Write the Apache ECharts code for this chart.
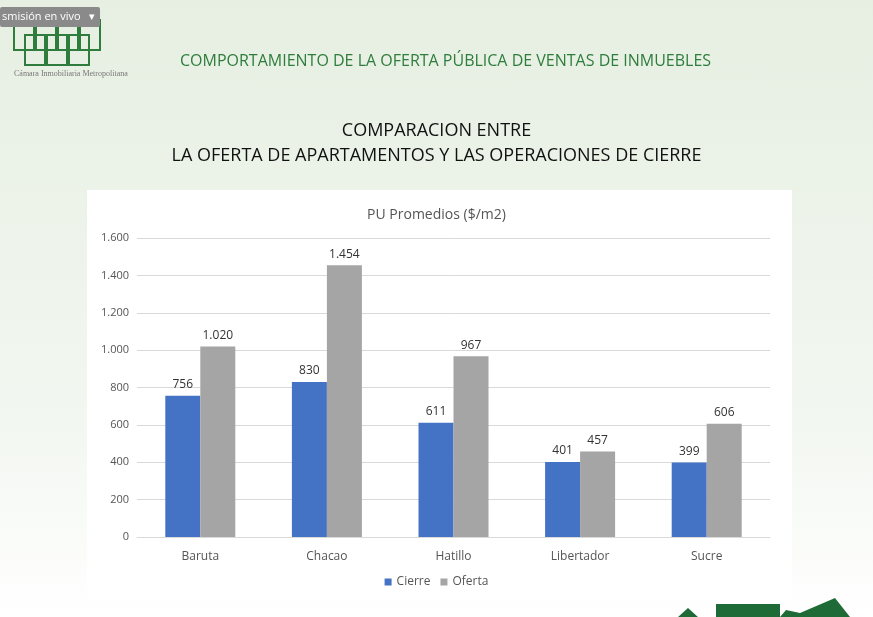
<!DOCTYPE html>
<html>
<head>
<meta charset="utf-8">
<script src="https://cdn.jsdelivr.net/npm/echarts@6/dist/echarts.min.js"></script>
<style>
  html, body { margin: 0; padding: 0; }
  body { background: linear-gradient(#e6efe2, #f3f7f1 70%, #ffffff); }
  #main { width: 873px; height: 617px; }
</style>
</head>
<body>
<div id="main"></div>
<script>
var categories = ['Baruta', 'Chacao', 'Hatillo', 'Libertador', 'Sucre'];
var cierre = [756, 830, 611, 401, 399];
var oferta = [1020, 1454, 967, 457, 606];

var chart = echarts.init(document.getElementById('main'));

function fmt(p) {
    return p.value >= 1000 ? Math.floor(p.value / 1000) + '.' + String(p.value % 1000).padStart(3, '0') : p.value;
}

// simple logo outline boxes
var logo = [];
[[14, 20], [36, 20], [58, 20], [80, 20], [25, 35], [47, 35], [69, 35]].forEach(function (p) {
    logo.push({ type: 'rect', shape: { x: p[0], y: p[1], width: 20, height: 30 }, style: { fill: 'none', stroke: '#2e7d3c', lineWidth: 2 } });
});

var option = {
    textStyle: { fontFamily: 'Open Sans, Noto Sans, sans-serif' },
    graphic: [
        { type: 'rect', shape: { x: 87, y: 190, width: 705, height: 410 }, style: { fill: '#ffffff' }, z: -10 }
    ].concat(logo).concat([
        { type: 'text', left: 180, top: 53, style: { text: 'COMPORTAMIENTO DE LA OFERTA PÚBLICA DE VENTAS DE INMUEBLES', fill: '#2e7d3c', font: '16px Open Sans' } },
        { type: 'text', left: 'center', top: 122, style: { text: 'COMPARACION ENTRE', fill: '#111', font: '18px Open Sans' } },
        { type: 'text', left: 'center', top: 147, style: { text: 'LA OFERTA DE APARTAMENTOS Y LAS OPERACIONES DE CIERRE', fill: '#111', font: '18px Open Sans' } },
        { type: 'text', left: 14, top: 70, style: { text: 'Cámara Inmobiliaria Metropolitana', fill: '#777', font: '8px serif' } },
        { type: 'rect', shape: { x: 0, y: 7, width: 100, height: 20, r: 2 }, style: { fill: '#8a8a8a' } },
        { type: 'text', left: 2, top: 11, style: { text: 'smisión en vivo   ▾', fill: '#fff', font: '11px Open Sans' } },
        { type: 'polygon', shape: { points: [[678, 617], [688, 608], [698, 617], [716, 617], [716, 604], [780, 604], [780, 617], [786, 610], [800, 613], [835, 598], [850, 617]] }, style: { fill: '#1e6b38' } }
    ]),
    title: {
        text: 'PU Promedios ($/m2)',
        left: 'center',
        top: 203,
        textStyle: { fontSize: 14, fontWeight: 'normal', color: '#555' }
    },
    legend: {
        bottom: 24,
        left: 'center',
        itemWidth: 7,
        itemHeight: 7,
        itemGap: 10,
        icon: 'rect',
        textStyle: { fontSize: 12, color: '#555' }
    },
    grid: { left: 137, right: 103, top: 238, bottom: 80 },
    xAxis: {
        type: 'category',
        data: categories,
        axisTick: { show: false },
        axisLine: { lineStyle: { color: '#d9d9d9' } },
        axisLabel: { color: '#555', fontSize: 12, margin: 14 }
    },
    yAxis: {
        type: 'value',
        min: 0,
        max: 1600,
        interval: 200,
        axisLabel: {
            color: '#555', fontSize: 11,
            formatter: function (v) { return v >= 1000 ? Math.floor(v / 1000) + '.' + String(v % 1000).padStart(3, '0') : v; }
        },
        splitLine: { lineStyle: { color: '#d9d9d9' } }
    },
    series: [{
        name: 'Cierre', type: 'bar', data: cierre, barWidth: 35, barGap: '0%',
        itemStyle: { color: '#4472c4' },
        label: { show: true, position: 'top', color: '#333', fontSize: 12, formatter: fmt }
    }, {
        name: 'Oferta', type: 'bar', data: oferta, barWidth: 35,
        itemStyle: { color: '#a5a5a5' },
        label: { show: true, position: 'top', color: '#333', fontSize: 12, formatter: fmt }
    }]
};
chart.setOption(option);
</script>
</body>
</html>
